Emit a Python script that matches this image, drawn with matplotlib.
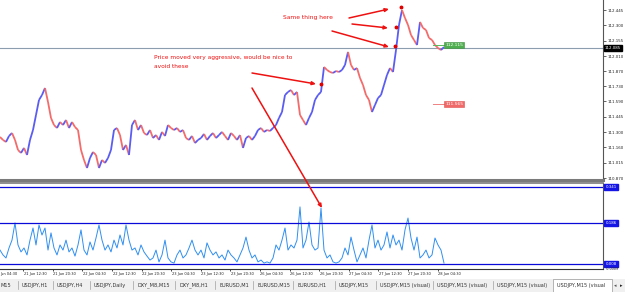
import numpy as np
import matplotlib
matplotlib.use('Agg')
import matplotlib.pyplot as plt
from matplotlib.collections import LineCollection
from matplotlib.patches import Rectangle
import matplotlib.transforms as mtransforms

# ---------------- data ----------------
close = [111.255, 111.227, 111.208, 111.264, 111.292, 111.227, 111.133, 111.105, 111.152, 111.086,
         111.227, 111.320, 111.461, 111.602, 111.648, 111.714, 111.583, 111.433, 111.367, 111.339,
         111.395, 111.367, 111.414, 111.339, 111.395, 111.348, 111.320, 111.133, 111.039, 110.964,
         111.058, 111.114, 111.086, 110.964, 111.039, 111.011, 111.058, 111.133, 111.320, 111.339,
         111.273, 111.133, 111.180, 111.086, 111.367, 111.414, 111.320, 111.367, 111.292, 111.273,
         111.320, 111.245, 111.273, 111.227, 111.302, 111.264, 111.367, 111.339, 111.320, 111.339,
         111.302, 111.320, 111.245, 111.227, 111.264, 111.198, 111.227, 111.245, 111.283, 111.227,
         111.264, 111.292, 111.245, 111.273, 111.302, 111.264, 111.227, 111.292, 111.264, 111.227,
         111.273, 111.152, 111.245, 111.264, 111.227, 111.264, 111.320, 111.339, 111.302, 111.320,
         111.311, 111.339, 111.367, 111.433, 111.489, 111.648, 111.677, 111.695, 111.648, 111.677,
         111.461, 111.414, 111.367, 111.433, 111.489, 111.602, 111.648, 111.677, 111.911, 111.883,
         111.864, 111.855, 111.873, 111.864, 111.883, 111.930, 112.052, 111.930, 111.883, 111.901,
         111.808, 111.742, 111.648, 111.602, 111.489, 111.555, 111.620, 111.648, 111.742, 111.836,
         111.901, 111.864, 112.070, 112.305, 112.445, 112.370, 112.305, 112.211, 112.164, 112.117,
         112.333, 112.277, 112.258, 112.183, 112.164, 112.117, 112.089, 112.070, 112.098]

osc = [0.068, 0.047, 0.034, 0.077, 0.111, 0.185, 0.090, 0.060, 0.077, 0.047,
       0.111, 0.163, 0.090, 0.176, 0.133, 0.163, 0.068, 0.142, 0.077, 0.047,
       0.090, 0.068, 0.111, 0.060, 0.077, 0.042, 0.090, 0.155, 0.068, 0.047,
       0.103, 0.068, 0.120, 0.176, 0.111, 0.068, 0.090, 0.060, 0.111, 0.077,
       0.133, 0.090, 0.176, 0.111, 0.068, 0.077, 0.047, 0.090, 0.060, 0.042,
       0.025, 0.034, 0.068, 0.017, 0.047, 0.111, 0.034, 0.017, 0.012, 0.047,
       0.068, 0.034, 0.047, 0.077, 0.111, 0.068, 0.047, 0.068, 0.034, 0.099,
       0.068, 0.047, 0.060, 0.034, 0.047, 0.025, 0.068, 0.047, 0.034, 0.017,
       0.047, 0.077, 0.124, 0.068, 0.034, 0.047, 0.017, 0.025, 0.012, 0.017,
       0.012, 0.034, 0.090, 0.068, 0.111, 0.163, 0.068, 0.090, 0.077, 0.111,
       0.254, 0.077, 0.111, 0.189, 0.090, 0.068, 0.077, 0.249, 0.068, 0.034,
       0.047, 0.017, 0.012, 0.017, 0.034, 0.077, 0.047, 0.124, 0.068, 0.017,
       0.047, 0.077, 0.034, 0.111, 0.176, 0.077, 0.111, 0.068, 0.090, 0.146,
       0.077, 0.133, 0.090, 0.111, 0.068, 0.155, 0.206, 0.120, 0.068, 0.124,
       0.034, 0.047, 0.068, 0.034, 0.047, 0.120, 0.090, 0.068, 0.012]

price_ticks = [112.445, 112.300, 112.155, 112.010, 111.870, 111.730, 111.590,
               111.445, 111.300, 111.160, 111.015, 110.870]
current_price = 112.085
green_level = 112.115
red_level = 111.565
osc_levels = [0.341, 0.186, 0.008]
osc_level_labels = ['0.341', '0.186', '0.008']

time_labels = ['21 Jun 04:30', '21 Jun 12:30', '21 Jun 20:30', '22 Jun 04:30',
               '22 Jun 12:30', '22 Jun 20:30', '23 Jun 04:30', '23 Jun 12:30',
               '23 Jun 20:30', '26 Jun 04:30', '26 Jun 12:30', '26 Jun 20:30',
               '27 Jun 04:30', '27 Jun 12:30', '27 Jun 20:30', '28 Jun 04:30']

marker_idx = [107, 132, 133.7, 131.7]
marker_price = [111.752, 112.286, 112.473, 112.108]

tabs = ['USDJPY,M15', 'USDJPY,H1', 'USDJPY,H4', 'USDJPY,Daily', 'DXY_M8,M15',
        'DXY_M8,H1', 'EURUSD,M1', 'EURUSD,M15', 'EURUSD,H1', 'USDJPY,M15',
        'USDJPY,M15 (visual)', 'USDJPY,M15 (visual)', 'USDJPY,M15 (visual)',
        'USDJPY,M15 (visual']

# ---------------- layout helpers (pixels) ----------------
W, H = 625, 292
def fx(x): return x / W
def fy(y): return 1 - y / H

UP = '#5a5cf2'
DOWN = '#f36b6b'

fig = plt.figure(figsize=(W / 100, H / 100), dpi=100)
fig.patch.set_facecolor('white')

# ---------------- price panel ----------------
axp = fig.add_axes([0, fy(180), 603 / W, 180 / H])
n = len(close)
x = np.arange(n)
segs, cols = [], []
for i in range(1, n):
    segs.append([(x[i - 1], close[i - 1]), (x[i], close[i])])
    cols.append(UP if close[i] >= close[i - 1] else DOWN)
axp.add_collection(LineCollection(segs, colors=cols, linewidths=1.3, capstyle='butt'))
axp.plot(marker_idx, marker_price, 'o', color='#e00000', ms=1.8, zorder=5)

axp.set_xlim(0, 201)
axp.set_ylim(110.8515, 112.539)
axp.axhline(current_price, color='#8c9db0', lw=0.8, zorder=1)

for s in ['top', 'left']:
    axp.spines[s].set_visible(False)
axp.spines['right'].set_color('#555555')
axp.spines['right'].set_linewidth(0.8)
axp.spines['bottom'].set_color('#7a7a7a')
axp.spines['bottom'].set_linewidth(2.2)
axp.set_xticks([])
axp.yaxis.tick_right()
axp.set_yticks(price_ticks)
axp.set_yticklabels(['%.3f' % v for v in price_ticks])
axp.tick_params(axis='y', direction='out', length=2, width=0.5, pad=1,
                labelsize=2.9, colors='#222222')

blend = mtransforms.blended_transform_factory(axp.transAxes, axp.transData)
axp.text(1.003, current_price, '%.3f' % current_price, transform=blend,
         fontsize=2.9, color='white', va='center', ha='left',
         bbox=dict(boxstyle='square,pad=0.25', fc='black', ec='black'), zorder=10)

# level labels in chart
axp.plot([144.3, 148.3], [green_level, green_level], color='#5cb85c', lw=0.7)
axp.text(148.4, green_level, '%.3f' % green_level, fontsize=3.2, color='white',
         va='center', ha='left',
         bbox=dict(boxstyle='square,pad=0.2', fc='#4fae4f', ec='#3c8f3c', lw=0.4))
axp.plot([144.3, 148.3], [red_level, red_level], color='#f08080', lw=0.7)
axp.text(148.4, red_level, '%.3f' % red_level, fontsize=3.2, color='white',
         va='center', ha='left',
         bbox=dict(boxstyle='square,pad=0.2', fc='#f06a6a', ec='#e05050', lw=0.4))

# ---------------- oscillator panel ----------------
axi = fig.add_axes([0, fy(269), 603 / W, (269 - 183) / H])
axi.plot(x, osc, color='#2f8ff0', lw=0.7)
for lv in osc_levels:
    axi.axhline(lv, color='#0a0ad8', lw=0.9)
axi.set_xlim(0, 201)
axi.set_ylim(-0.0136, 0.357)
axi.spines['left'].set_visible(False)
axi.spines['top'].set_color('#7a7a7a')
axi.spines['top'].set_linewidth(1.2)
axi.spines['right'].set_color('#555555')
axi.spines['right'].set_linewidth(0.8)
axi.spines['bottom'].set_color('#333333')
axi.spines['bottom'].set_linewidth(0.8)
axi.set_yticks([])

tick_pos = (np.arange(len(time_labels)) * 29.6 - 6.5) / 3.0
vis = tick_pos >= 0
axi.set_xticks(tick_pos[vis])
axi.set_xticklabels([])
axi.tick_params(axis='x', direction='out', length=1.5, width=0.5)
tb = mtransforms.blended_transform_factory(axi.transData, axi.transAxes)
for p, lab in zip(tick_pos, time_labels):
    if p < 0:
        # only the visible tail of the first label shows at the left edge
        axi.text(0, -0.04, lab.split(' ', 1)[1], transform=tb, fontsize=2.6,
                 ha='left', va='top', color='#222222', clip_on=False)
    else:
        axi.text(p + 0.2, -0.04, lab, transform=tb, fontsize=2.6, ha='left', va='top',
                 color='#222222', clip_on=False)

bi = mtransforms.blended_transform_factory(axi.transAxes, axi.transData)
for lv, lab in zip(osc_levels, osc_level_labels):
    axi.text(1.004, lv, lab, transform=bi, fontsize=2.9, color='white', va='center',
             ha='left', bbox=dict(boxstyle='square,pad=0.25', fc='#1515e6', ec='#1515e6'))
axi.text(1.004, -0.012, '-0.0009', transform=bi, fontsize=2.4, color='#222222',
         va='center', ha='left')

# ---------------- annotations ----------------
RED = '#ee1111'
fig.text(fx(154), fy(57), 'Price moved very aggressive, would be nice to',
         fontsize=4.2, color=RED, va='center', ha='left')
fig.text(fx(154), fy(66), 'avoid these', fontsize=4.2, color=RED, va='center', ha='left')
fig.text(fx(283), fy(18), 'Same thing here', fontsize=4.3, color=RED, va='center', ha='left')

arrows = [((252, 73), (316, 84)), ((252, 88), (322, 208)),
          ((349, 18), (389, 9)), ((352, 24), (388, 28)), ((332, 31), (389, 47))]
for (x0, y0), (x1, y1) in arrows:
    fig.add_artist(matplotlib.patches.FancyArrowPatch(
        (fx(x0), fy(y0)), (fx(x1), fy(y1)), transform=fig.transFigure,
        arrowstyle='-|>,head_length=2.2,head_width=1.0', color=RED, lw=1.1,
        shrinkA=0, shrinkB=0))

# ---------------- tab bar ----------------
fig.add_artist(Rectangle((0, 0), 1, fy(279), transform=fig.transFigure,
                         fc='#f0f0f0', ec='none'))
fig.add_artist(Rectangle((fx(553), 0), fx(612) - fx(553), fy(279),
                         transform=fig.transFigure, fc='white', ec='#999999', lw=0.5))
seps = [18, 53, 90, 133, 175, 215, 253, 293, 335, 376, 433, 493, 553]
for s in seps[:-1]:
    fig.add_artist(plt.Line2D([fx(s), fx(s)], [fy(289), fy(281)],
                              transform=fig.transFigure, color='#a0a0a0', lw=0.5))
# first tab is scrolled off the left edge: only its tail shows
fig.text(fx(0.5), fy(285.5), tabs[0].split(',')[1], fontsize=3.6, ha='left', va='center',
         color='#333333')
for s, t in zip(seps, tabs[1:]):
    fig.text(fx(s + 4), fy(285.5), t, fontsize=3.6, ha='left', va='center', color='#333333')
fig.text(fx(615), fy(285.5), '\u25c2', fontsize=3.6, ha='center', va='center', color='#555555')
fig.text(fx(621), fy(285.5), '\u25b8', fontsize=3.6, ha='center', va='center', color='#222222')

fig.savefig('out.png', dpi=100, facecolor='white')
